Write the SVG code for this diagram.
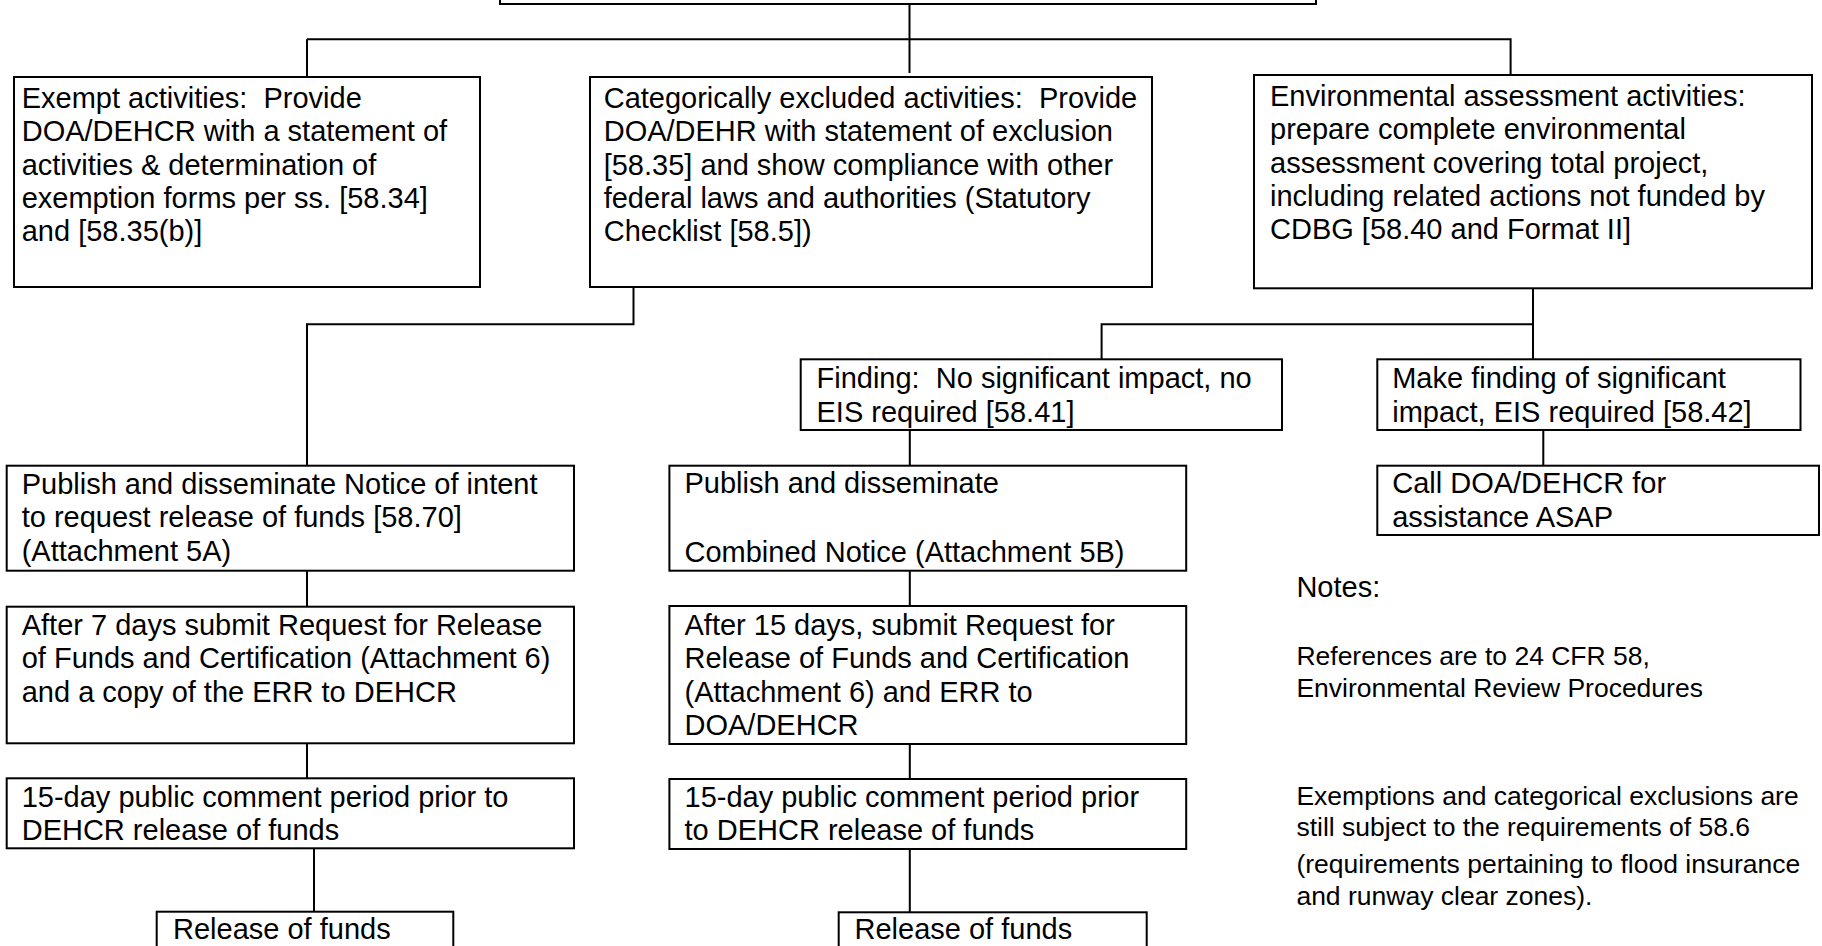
<svg xmlns="http://www.w3.org/2000/svg" width="1822" height="946" viewBox="0 0 1822 946">
<style>
.box{fill:#fff;stroke:#000;stroke-width:2}
.t{font-family:"Liberation Sans",Arial,sans-serif;font-size:29px;fill:#000;white-space:pre}
.n{font-family:"Liberation Sans",Arial,sans-serif;font-size:26.5px;fill:#000;white-space:pre}
.c{fill:none;stroke:#000;stroke-width:2}
</style>
<rect width="1822" height="946" fill="#fff"/>
<g id="connectors">
<path class="c" d="M909.5 4V73M307 39.3H1510.6V75M307 39.3V77"/>
<path class="c" d="M633.5 287V324.3H307V465.7M307 570.7V606.7M307 743.3V778.3M314 848.3V911.7"/>
<path class="c" d="M1533 288.3V324.3H1101.6V359.3M1533 324.3V359.3M909.8 422V465.7M909.8 570.7V606M909.8 744V779M909.8 849V912.3M1543.3 430V465.7"/>
</g>
<g id="top"><rect class="box" x="500" y="-20" width="816" height="24"/></g>
<g id="exempt"><rect class="box" x="14" y="77" width="466" height="210"/>
<text class="t" x="21.7" y="108">Exempt activities:  Provide</text>
<text class="t" x="21.7" y="141.3">DOA/DEHCR with a statement of</text>
<text class="t" x="21.7" y="174.7">activities &amp; determination of</text>
<text class="t" x="21.7" y="208">exemption forms per ss. [58.34]</text>
<text class="t" x="21.7" y="241.3">and [58.35(b)]</text></g>
<g id="catex"><rect class="box" x="590" y="77" width="562" height="210"/>
<text class="t" x="603.7" y="108">Categorically excluded activities:  Provide</text>
<text class="t" x="603.7" y="141.3">DOA/DEHR with statement of exclusion</text>
<text class="t" x="603.7" y="174.7">[58.35] and show compliance with other</text>
<text class="t" x="603.7" y="208">federal laws and authorities (Statutory</text>
<text class="t" x="603.7" y="241.3">Checklist [58.5])</text></g>
<g id="envassess"><rect class="box" x="1254" y="75" width="558" height="213.3"/>
<text class="t" x="1270" y="106">Environmental assessment activities:</text>
<text class="t" x="1270" y="139.3">prepare complete environmental</text>
<text class="t" x="1270" y="172.7">assessment covering total project,</text>
<text class="t" x="1270" y="206">including related actions not funded by</text>
<text class="t" x="1270" y="239.3">CDBG [58.40 and Format II]</text></g>
<g id="fonsi"><rect class="box" x="800.7" y="359.3" width="481.3" height="70.7"/>
<text class="t" x="816.5" y="388.3">Finding:  No significant impact, no</text>
<text class="t" x="816.5" y="421.7">EIS required [58.41]</text></g>
<g id="fosi"><rect class="box" x="1377.3" y="359.3" width="423.2" height="70.7"/>
<text class="t" x="1392.2" y="388.3">Make finding of significant</text>
<text class="t" x="1392.2" y="421.7">impact, EIS required [58.42]</text></g>
<g id="call"><rect class="box" x="1377.3" y="465.7" width="441.7" height="69.3"/>
<text class="t" x="1392.2" y="493.3">Call DOA/DEHCR for</text>
<text class="t" x="1392.2" y="526.7">assistance ASAP</text></g>
<g id="publishA"><rect class="box" x="6.7" y="465.7" width="567.3" height="105"/>
<text class="t" x="21.7" y="494">Publish and disseminate Notice of intent</text>
<text class="t" x="21.7" y="527.3">to request release of funds [58.70]</text>
<text class="t" x="21.7" y="560.7">(Attachment 5A)</text></g>
<g id="publishB"><rect class="box" x="669.4" y="465.7" width="516.8" height="105"/>
<text class="t" x="684.5" y="493.3">Publish and disseminate</text>
<text class="t" x="684.5" y="562">Combined Notice (Attachment 5B)</text></g>
<g id="request7"><rect class="box" x="6.7" y="606.7" width="567.3" height="136.6"/>
<text class="t" x="21.7" y="634.5">After 7 days submit Request for Release</text>
<text class="t" x="21.7" y="668">of Funds and Certification (Attachment 6)</text>
<text class="t" x="21.7" y="701.5">and a copy of the ERR to DEHCR</text></g>
<g id="request15"><rect class="box" x="669.4" y="606" width="516.8" height="138"/>
<text class="t" x="684.5" y="635">After 15 days, submit Request for</text>
<text class="t" x="684.5" y="668.3">Release of Funds and Certification</text>
<text class="t" x="684.5" y="701.7">(Attachment 6) and ERR to</text>
<text class="t" x="684.5" y="735">DOA/DEHCR</text></g>
<g id="commentA"><rect class="box" x="6.7" y="778.3" width="567.3" height="70"/>
<text class="t" x="21.7" y="806.7">15-day public comment period prior to</text>
<text class="t" x="21.7" y="840">DEHCR release of funds</text></g>
<g id="commentB"><rect class="box" x="669.4" y="779" width="516.8" height="70"/>
<text class="t" x="684.5" y="806.7">15-day public comment period prior</text>
<text class="t" x="684.5" y="840">to DEHCR release of funds</text></g>
<g id="releaseA"><rect class="box" x="156.7" y="911.7" width="296.6" height="60"/>
<text class="t" x="173" y="939">Release of funds</text></g>
<g id="releaseB"><rect class="box" x="838.7" y="912.3" width="308" height="60"/>
<text class="t" x="854.5" y="938.5">Release of funds</text></g>
<g id="notes">
<text class="t" x="1296.4" y="597.3">Notes:</text>
<text class="n" x="1296.4" y="665">References are to 24 CFR 58,</text>
<text class="n" x="1296.4" y="696.5">Environmental Review Procedures</text>
<text class="n" x="1296.4" y="805">Exemptions and categorical exclusions are</text>
<text class="n" x="1296.4" y="835.5">still subject to the requirements of 58.6</text>
<text class="n" x="1296.4" y="873">(requirements pertaining to flood insurance</text>
<text class="n" x="1296.4" y="904.5">and runway clear zones).</text>
</g>
</svg>
